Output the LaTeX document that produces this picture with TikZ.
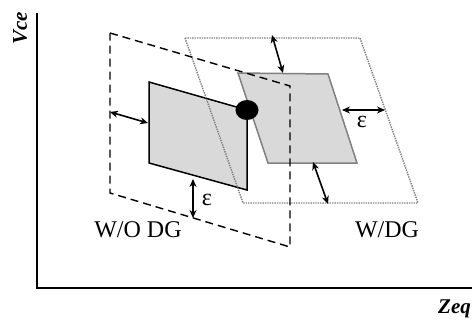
\documentclass[tikz,border=0pt]{standalone}
\usepackage{fontspec}
\setmainfont{Liberation Serif}
\usetikzlibrary{arrows.meta}

\begin{document}
\begin{tikzpicture}[x=1pt,y=-1pt]
            \tikzstyle{axis} = [line width=2pt]
            \tikzstyle{region} = [fill=gray!30, line width=1.5pt]
            \tikzstyle{bound} = [line width=1.4pt]
            \tikzstyle{gap} = [{Stealth[length=8pt,width=7pt]}-{Stealth[length=8pt,width=7pt]}, line width=1.6pt]
            \tikzstyle{tag} = [font=\fontsize{24}{24}\selectfont, inner sep=0pt]
            \tikzstyle{axislabel} = [font=\fontsize{21}{21}\selectfont\bfseries\itshape, inner sep=0pt]

            \useasboundingbox (0,0) rectangle (475,322);

            % axes
            \coordinate (ytop) at (37,13);
            \coordinate (origin) at (37,288);
            \coordinate (xend) at (472,288);
            \draw [axis] (ytop) -- (origin) -- (xend);
            \node [axislabel, rotate=90, anchor=base west] (vce) at (27,45) {Vce};
            \node [axislabel, anchor=base west] (zeq) at (438,313) {Zeq};

            % operating regions
            \draw [region] (149,82) -- (247,110) -- (247,190) -- (149,163) -- cycle;
            \draw [region, draw=gray] (238,73) -- (328,74) -- (357,163) -- (268,163) -- cycle;
            \draw [bound, densely dotted, draw=gray] (185,38) -- (360,38) -- (418,203) -- (243,203) -- cycle;
            \draw [bound, dash pattern=on 8pt off 5pt] (110,33) -- (290,86) -- (290,247) -- (110,193) -- cycle;
            \fill (247,110) ellipse (11.5 and 10);

            % margins
            \coordinate (woLeftA) at (110,112);
            \coordinate (woLeftB) at (148,123);
            \coordinate (woLowA) at (193,179);
            \coordinate (woLowB) at (193,218);
            \coordinate (wTopA) at (272,35);
            \coordinate (wTopB) at (283,73);
            \coordinate (wRightA) at (342,110);
            \coordinate (wRightB) at (385,110);
            \coordinate (wLowA) at (313,162);
            \coordinate (wLowB) at (328,204);
            \draw [gap] (woLeftA) -- (woLeftB);
            \draw [gap] (woLowA) -- (woLowB);
            \draw [gap] (wTopA) -- (wTopB);
            \draw [gap] (wRightA) -- (wRightB);
            \draw [gap] (wLowA) -- (wLowB);

            \node [tag] (epsLow) at (207,200) {ε};
            \node [tag] (epsRight) at (362,122) {ε};
            \node [tag] (woDG) at (138,230) {W/O DG};
            \node [tag] (wDG) at (387,230) {W/DG};
        \end{tikzpicture}
\end{document}
